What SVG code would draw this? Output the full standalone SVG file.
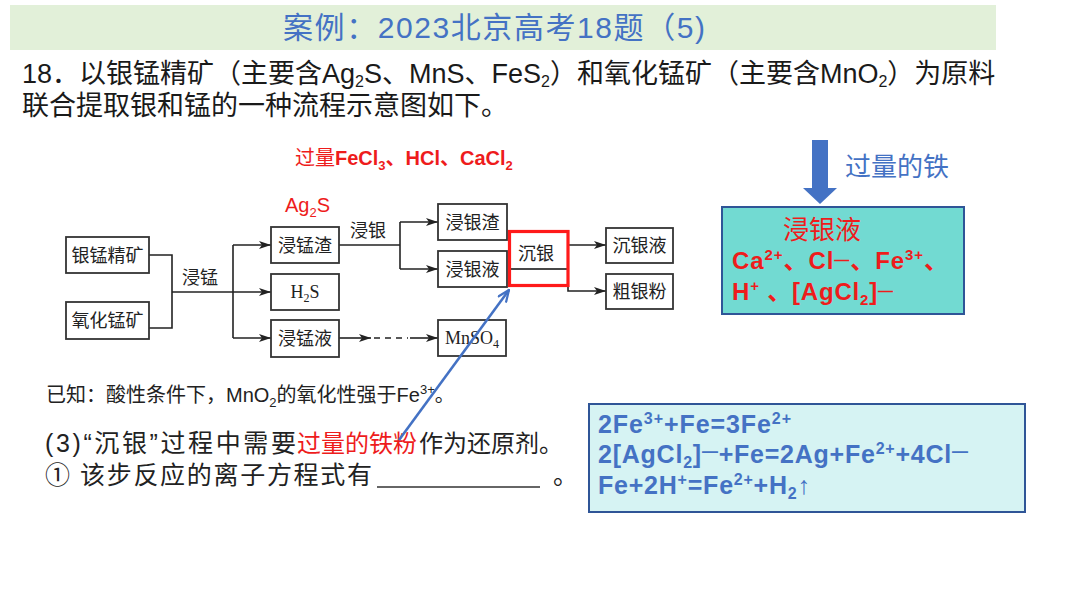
<svg xmlns="http://www.w3.org/2000/svg" width="1080" height="608" viewBox="0 0 1080 608">
<style>
text{font-family:"Liberation Sans","Noto Sans CJK SC",sans-serif;}
.title{font-size:30px;fill:#4472c4;}
.q{font-size:27px;fill:#1a1a1a;}
.bx{fill:#fff;stroke:#333;stroke-width:1.8;}
.bt{font-family:"Liberation Serif","Noto Sans CJK SC",serif;font-size:18px;fill:#222;text-anchor:middle;}
.ln{fill:none;stroke:#222;stroke-width:1.6;}
.red{fill:#ee1c1c;}
.eq{font-size:25px;font-weight:bold;fill:#4472c4;}
.ion{font-size:24px;font-weight:bold;fill:#ee1c1c;}
.cjk{font-family:"Noto Sans CJK SC",sans-serif;}
</style>
<defs>
<marker id="ah" viewBox="0 0 12 8" refX="12" refY="4" markerWidth="12" markerHeight="8" markerUnits="userSpaceOnUse" orient="auto">
<path d="M0,0 L12,4 L0,8 L3,4 Z" fill="#222"/>
</marker>
<marker id="bh" viewBox="0 0 14 12" refX="13" refY="6" markerWidth="14" markerHeight="12" markerUnits="userSpaceOnUse" orient="auto">
<path d="M1,1 L13,6 L1,11" fill="none" stroke="#4472c4" stroke-width="2.2"/>
</marker>
</defs>
<rect width="1080" height="608" fill="#fff"/>
<g id="title">
<rect x="10" y="5" width="986" height="45" fill="#e2f0d9"/>
<text class="title" x="283" y="38" textLength="422" lengthAdjust="spacing">案例：2023北京高考18题（5)</text>
</g>
<g id="question">
<text class="q" x="22" y="83">18．以银锰精矿（主要含Ag<tspan font-size="16" dy="4">2</tspan><tspan dy="-4">S、MnS、FeS</tspan><tspan font-size="16" dy="4">2</tspan><tspan dy="-4">）和氧化锰矿（主要含MnO</tspan><tspan font-size="16" dy="4">2</tspan><tspan dy="-4">）为原料</tspan></text>
<text class="q" x="22" y="115">联合提取银和锰的一种流程示意图如下。</text>
</g>
<g id="reagent-label">
<text x="295" y="165" font-size="20" font-weight="bold" class="red"><tspan font-weight="normal">过量</tspan>FeCl<tspan font-size="13" dy="5">3</tspan><tspan dy="-5">、HCl、CaCl</tspan><tspan font-size="13" dy="5">2</tspan></text>
<text x="285" y="212" font-size="20" class="red">Ag<tspan font-size="13" dy="5">2</tspan><tspan dy="-5">S</tspan></text>
</g>
<g id="connectors">
<polyline class="ln" points="149,255 172,255 172,328 149,328"/>
<line class="ln" x1="172" y1="292" x2="233" y2="292"/>
<line class="ln" x1="233" y1="245" x2="233" y2="338"/>
<line class="ln" x1="233" y1="245" x2="271" y2="245" marker-end="url(#ah)"/>
<line class="ln" x1="233" y1="292" x2="271" y2="292" marker-end="url(#ah)"/>
<line class="ln" x1="233" y1="338" x2="271" y2="338" marker-end="url(#ah)"/>
<line class="ln" x1="339" y1="245" x2="400" y2="245"/>
<line class="ln" x1="400" y1="222" x2="400" y2="269"/>
<line class="ln" x1="400" y1="222" x2="438" y2="222" marker-end="url(#ah)"/>
<line class="ln" x1="400" y1="269" x2="438" y2="269" marker-end="url(#ah)"/>
<line class="ln" x1="339" y1="338" x2="371" y2="338" marker-end="url(#ah)"/>
<line class="ln" x1="374" y1="338" x2="408" y2="338" stroke-dasharray="6 5"/>
<line class="ln" x1="410" y1="338" x2="438" y2="338" marker-end="url(#ah)"/>
<line class="ln" x1="568" y1="245" x2="606" y2="245" marker-end="url(#ah)"/>
<polyline class="ln" points="568,284 568,291 606,291" marker-end="url(#ah)"/>
<text class="bt" x="200" y="284">浸锰</text>
<text class="bt" x="368" y="237">浸银</text>
</g>
<g id="n-yinmengjingkuang"><rect class="bx" x="66" y="237" width="83" height="36"/><text class="bt" x="107.5" y="261.5">银锰精矿</text></g>
<g id="n-yanghuamengkuang"><rect class="bx" x="66" y="302" width="83" height="37"/><text class="bt" x="107.5" y="327">氧化锰矿</text></g>
<g id="n-jinmengzha"><rect class="bx" x="271" y="227" width="68" height="36"/><text class="bt" x="305" y="251.5">浸锰渣</text></g>
<g id="n-h2s"><rect class="bx" x="271" y="274" width="68" height="36"/><text class="bt" x="305" y="298" font-size="19">H<tspan font-size="12" dy="4">2</tspan><tspan dy="-4">S</tspan></text></g>
<g id="n-jinmengye"><rect class="bx" x="271" y="320" width="68" height="37"/><text class="bt" x="305" y="345">浸锰液</text></g>
<g id="n-jinyinzha"><rect class="bx" x="438" y="204" width="69" height="36"/><text class="bt" x="472.5" y="228.5">浸银渣</text></g>
<g id="n-jinyinye"><rect class="bx" x="438" y="251" width="69" height="36"/><text class="bt" x="472.5" y="275.5">浸银液</text></g>
<g id="n-mnso4"><rect class="bx" x="438" y="320" width="68" height="36"/><text class="bt" x="472" y="344">MnSO<tspan font-size="12" dy="4">4</tspan></text></g>
<g id="n-chenyin"><rect class="bx" x="509" y="231" width="59" height="38"/><text class="bt" x="536" y="259.5">沉银</text><rect x="509.5" y="231.5" width="58.5" height="54" fill="none" stroke="#ff1a1a" stroke-width="3.2"/></g>
<g id="n-chenyinye"><rect class="bx" x="606" y="228" width="67" height="35"/><text class="bt" x="639.5" y="252">沉银液</text></g>
<g id="n-cuyinfen"><rect class="bx" x="606" y="274" width="67" height="35"/><text class="bt" x="639.5" y="298">粗银粉</text></g>
<g id="known">
<text x="46" y="402" font-size="20" fill="#222">已知：酸性条件下，MnO<tspan font-size="13" dy="5">2</tspan><tspan dy="-5">的氧化性强于Fe</tspan><tspan font-size="13" dy="-8">3+</tspan><tspan dy="8">。</tspan></text>
</g>
<g id="q3">
<text x="45" y="452" font-size="25" fill="#222" textLength="251" lengthAdjust="spacing">(3)“沉银”过程中需要</text>
<text x="297" y="452" font-size="24" class="red">过量的铁粉</text>
<text x="419" y="452" font-size="24" fill="#222">作为还原剂。</text>
<text x="45" y="484" font-size="25" fill="#222" class="cjk">①</text>
<text x="80" y="484" font-size="25" fill="#222" textLength="292" lengthAdjust="spacing">该步反应的离子方程式有</text>
<line x1="377" y1="487" x2="540" y2="487" stroke="#333" stroke-width="1.5"/>
<text x="553" y="484" font-size="25" fill="#222">。</text>
</g>
<g id="blue-pointer">
<line x1="399" y1="440" x2="509" y2="290" stroke="#4472c4" stroke-width="2.6" marker-end="url(#bh)"/>
</g>
<g id="iron-arrow">
<polygon points="812,140 828,140 828,188 837,188 820,204 803,188 812,188" fill="#4472c4"/>
<text x="845" y="176" font-size="26" fill="#4472c4">过量的铁</text>
</g>
<g id="leach-box">
<rect x="722" y="207" width="242" height="107" fill="#72dad2" stroke="#2f5597" stroke-width="2"/>
<text x="783" y="239" font-size="26" class="red">浸银液</text>
<text class="ion" x="732" y="269" textLength="216" lengthAdjust="spacing">Ca<tspan font-size="15" dy="-9">2+</tspan><tspan dy="9">、Cl</tspan><tspan font-size="15" dy="-4">—</tspan><tspan dy="4">、Fe</tspan><tspan font-size="15" dy="-9">3+</tspan><tspan dy="9">、</tspan></text>
<text class="ion" x="732" y="300" textLength="161" lengthAdjust="spacing">H<tspan font-size="15" dy="-9">+</tspan><tspan dy="9"> 、[AgCl</tspan><tspan font-size="15" dy="5">2</tspan><tspan dy="-5">]</tspan><tspan font-size="15" dy="-4">—</tspan></text>
</g>
<g id="equation-box">
<rect x="589" y="404" width="436" height="108" fill="#d6f3f3" stroke="#2f5597" stroke-width="2"/>
<text class="eq" x="598" y="433" textLength="193" lengthAdjust="spacing">2Fe<tspan font-size="16" dy="-9">3+</tspan><tspan dy="9">+Fe=3Fe</tspan><tspan font-size="16" dy="-9">2+</tspan></text>
<text class="eq" x="598" y="463" textLength="370" lengthAdjust="spacing">2[AgCl<tspan font-size="16" dy="5">2</tspan><tspan dy="-5">]</tspan><tspan font-size="16" dy="-6">—</tspan><tspan dy="6">+Fe=2Ag+Fe</tspan><tspan font-size="16" dy="-9">2+</tspan><tspan dy="9">+4Cl</tspan><tspan font-size="16" dy="-6">—</tspan></text>
<text class="eq" x="598" y="494" textLength="212" lengthAdjust="spacing">Fe+2H<tspan font-size="16" dy="-9">+</tspan><tspan dy="9">=Fe</tspan><tspan font-size="16" dy="-9">2+</tspan><tspan dy="9">+H</tspan><tspan font-size="16" dy="5">2</tspan><tspan dy="-5" font-weight="normal">↑</tspan></text>
</g>
</svg>
